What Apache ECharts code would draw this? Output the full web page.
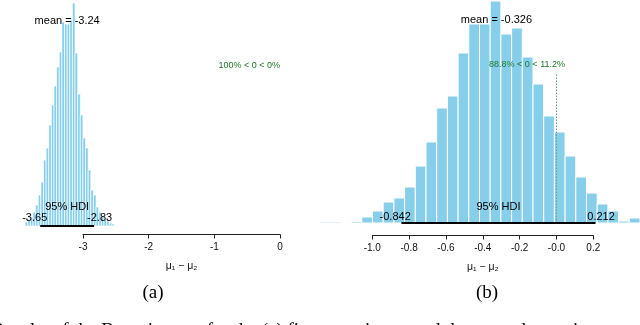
<!DOCTYPE html>
<html>
<head>
<meta charset="utf-8">
<script src="https://cdn.jsdelivr.net/npm/echarts@6/dist/echarts.min.js"></script>
<style>
  html, body { margin: 0; padding: 0; background: #fff; }
  #chart { width: 640px; height: 325px; }
</style>
</head>
<body>
<div id="chart"></div>
<script>
// (a) first experiment: posterior of mu1 - mu2
const binStartA = -3.88
const binWidthA = 0.04
const countsA = [4, 6, 9, 14, 21, 31, 44, 66, 78, 101, 121, 140, 159, 174, 204, 202, 202, 206, 223, 173,
  132, 111, 88, 78, 56, 36, 31, 19, 14, 10, 7, 5, 3, 2]
const hdiA = [-3.65, -2.83]
const meanA = -3.24
const pctA = [100, 0]          // % below / above comparison value
const ticksA = [-3, -2, -1, 0]

// (b) second experiment
const binStartB = -1.2895
const binWidthB = 0.0581
const countsB = [1, 1, 0.5, 1.5, 6, 12, 21, 25, 36, 57, 81, 115, 127, 170, 199, 199, 222, 189, 195, 166,
  139, 107, 91, 67, 46, 30, 19, 12, 2, 5]
const hdiB = [-0.842, 0.212]
const meanB = -0.326
const pctB = [88.8, 11.2]
const compVal = 0
const compHeightB = 150
const ticksB = [-1.0, -0.8, -0.6, -0.4, -0.2, 0.0, 0.2]

const SANS = "'Liberation Sans', Arial, Helvetica, sans-serif"
const SERIF = "'Liberation Serif', 'Times New Roman', serif"
const BAR = '#87ceeb'

const ctx = document.createElement('canvas').getContext('2d')
const textW = (s, font) => { ctx.font = font; return ctx.measureText(s).width }

function hist (idx, start, w, counts, border) {
  return {
    type: 'custom', xAxisIndex: idx, yAxisIndex: idx, clip: false,
    data: counts.map((c, i) => [start + i * w, start + (i + 1) * w, c]),
    encode: { x: [0, 1], y: 2 },
    renderItem: (params, api) => {
      const p0 = api.coord([api.value(0), 0])
      const p1 = api.coord([api.value(1), api.value(2)])
      return {
        type: 'rect',
        shape: { x: p0[0], y: p1[1], width: p1[0] - p0[0], height: p0[1] - p1[1] },
        style: { fill: BAR, stroke: '#fff', lineWidth: border },
      }
    },
  }
}

// text annotations placed in data coords; adj = horizontal anchor like R's adj
function notes (idx, items) {
  return {
    type: 'custom', xAxisIndex: idx, yAxisIndex: idx, clip: false, z: 5,
    data: items.map(t => [t.x, t.y]),
    renderItem: (params, api) => {
      const t = items[params.dataIndex]
      const p = api.coord([t.x, t.y])
      const font = (t.size || 11) + 'px ' + SANS
      const w = textW(t.text, font)
      return {
        type: 'text',
        style: { text: t.text, x: p[0] - t.adj * w, y: p[1], align: 'left', verticalAlign: 'middle', font, fill: t.color || '#000' },
      }
    },
  }
}

function hdiLine (idx, hdi) {
  return {
    type: 'line', xAxisIndex: idx, yAxisIndex: idx, clip: false, symbol: 'none', z: 4,
    data: [[hdi[0], 0], [hdi[1], 0]],
    lineStyle: { color: '#000', width: 2.2 },
  }
}

const fmt1 = v => Number(v).toFixed(1)
const pctText = p => p[0] + '% < ' + compVal + ' < ' + p[1] + '%'

function tickAxis (idx, ticks, formatter) {
  return {
    type: 'value', gridIndex: idx, min: ticks[0], max: ticks[ticks.length - 1],
    interval: ticks[1] - ticks[0],
    axisLine: { show: true, lineStyle: { color: '#222', width: 1 } },
    axisTick: { show: true, length: 4, lineStyle: { color: '#222' } },
    axisLabel: { color: '#111', fontFamily: SANS, fontSize: 10, margin: 8, formatter },
    splitLine: { show: false },
    name: 'μ₁ − μ₂', nameLocation: 'middle', nameGap: 26,
    nameTextStyle: { color: '#111', fontFamily: SANS, fontSize: 10.5 },
  }
}

const hiddenX = (idx, min, max) => ({ type: 'value', gridIndex: idx, min, max, show: false })
const hiddenY = (idx, max) => ({ type: 'value', gridIndex: idx, min: 0, max, show: false })

const minA = -3.9
const endB = binStartB + countsB.length * binWidthB

const option = {
  animation: false,
  backgroundColor: '#fff',
  grid: [
    { left: 23.8, right: 360, top: 2, bottom: 99 },        // 0: bars (a)
    { left: 83, right: 360, top: 200, bottom: 90.5 },      // 1: axis (a)
    { left: 319, right: 0, top: 1, bottom: 102 },          // 2: bars (b)
    { left: 372.3, right: 46.7, top: 200, bottom: 89.5 },  // 3: axis (b)
  ],
  xAxis: [
    hiddenX(0, minA, 0),
    tickAxis(1, ticksA, v => String(v)),
    hiddenX(2, binStartB, endB),
    tickAxis(3, ticksB, fmt1),
  ],
  yAxis: [hiddenY(0, 224), hiddenY(1, 1), hiddenY(2, 222), hiddenY(3, 1)],
  series: [
    hist(0, binStartA, binWidthA, countsA, 0.7),
    hdiLine(0, hdiA),
    notes(0, [
      { x: meanA, y: 205, adj: 0.5, text: 'mean = ' + meanA },
      { x: (hdiA[0] + hdiA[1]) / 2, y: 19, adj: 0.5, text: '95% HDI' },
      { x: hdiA[0], y: 8, adj: 0.72, text: String(hdiA[0]) },
      { x: hdiA[1], y: 8, adj: 0.28, text: String(hdiA[1]) },
      { x: compVal, y: 160, adj: pctA[0] / 100, text: pctText(pctA), size: 9, color: '#1f7a2a' },
    ]),
    { type: 'line', xAxisIndex: 1, yAxisIndex: 1, data: [], symbol: 'none' },
    hist(2, binStartB, binWidthB, countsB, 1),
    {
      type: 'line', xAxisIndex: 2, yAxisIndex: 2, clip: false, symbol: 'none', z: 3,
      data: [[compVal, 0], [compVal, compHeightB]],
      lineStyle: { color: '#5fa67a', width: 1, type: [1.5, 1.5] },
    },
    hdiLine(2, hdiB),
    notes(2, [
      { x: meanB, y: 203, adj: 0.5, text: 'mean = ' + meanB },
      { x: (hdiB[0] + hdiB[1]) / 2, y: 16, adj: 0.5, text: '95% HDI' },
      { x: hdiB[0], y: 6.5, adj: 0.7, text: String(hdiB[0]) },
      { x: hdiB[1], y: 6.5, adj: 0.3, text: String(hdiB[1]) },
      { x: compVal, y: 158, adj: pctB[0] / 100, text: pctText(pctB), size: 9, color: '#1f7a2a' },
    ]),
  ],
  graphic: [
    { type: 'text', x: 153, y: 293, style: { text: '(a)', align: 'center', verticalAlign: 'middle', font: '19px ' + SERIF, fill: '#000' } },
    { type: 'text', x: 487, y: 293, style: { text: '(b)', align: 'center', verticalAlign: 'middle', font: '19px ' + SERIF, fill: '#000' } },
    { type: 'text', x: -8, y: 321.5, style: { text: 'Results of the Bayesian test for the (a) first experiment and the second experiment', align: 'left', verticalAlign: 'top', font: '19px ' + SERIF, fill: '#000' } },
  ],
}

const chart = echarts.init(document.getElementById('chart'), null, { renderer: 'canvas' })
chart.setOption(option)
</script>
</body>
</html>
